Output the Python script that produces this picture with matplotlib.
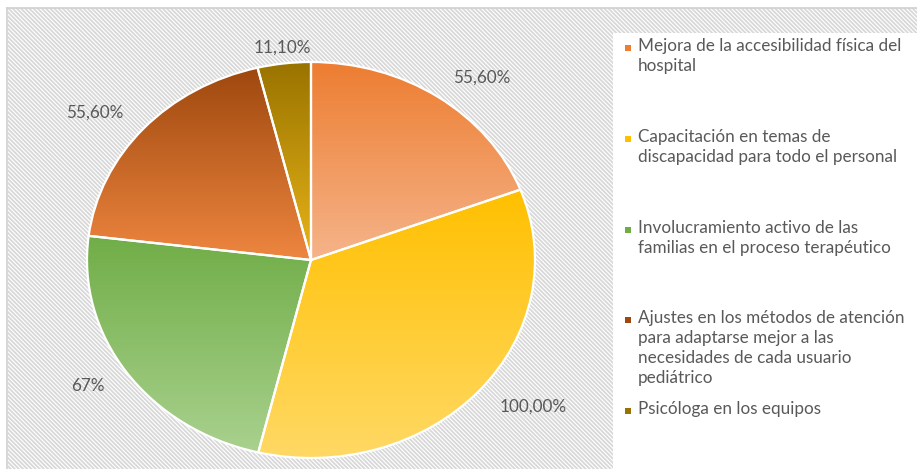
import numpy as np
import matplotlib.pyplot as plt
from matplotlib.patches import Rectangle
from matplotlib.colors import LinearSegmentedColormap

plt.rcParams['font.family'] = ['Lato', 'DejaVu Sans']
plt.rcParams['hatch.linewidth'] = 1.3

categories = [
    'Mejora de la accesibilidad física del\nhospital',
    'Capacitación en temas de\ndiscapacidad para todo el personal',
    'Involucramiento activo de las\nfamilias en el proceso terapéutico',
    'Ajustes en los métodos de atención\npara adaptarse mejor a las\nnecesidades de cada usuario\npediátrico',
    'Psicóloga en los equipos',
]
values = [55.6, 100.0, 67.0, 55.6, 11.1]
value_labels = ['55,60%', '100,00%', '67%', '55,60%', '11,10%']
top_colors = ['#ED7D31', '#FFC000', '#70AD47', '#9E480E', '#997300']
bottom_colors = ['#F5B48A', '#FFD966', '#A9D18E', '#EE8640', '#E8B418']

W, H = 917, 469
fig = plt.figure(figsize=(W / 100, H / 100), dpi=100)
fig.patch.set_facecolor('white')

# hatched chart background with thin border
bg = Rectangle((8 / W, 0), 1, 1 - 8 / H, transform=fig.transFigure,
               facecolor='white', edgecolor='#D8D8D8', hatch='\\' * 8, lw=0, zorder=0)
fig.patches.append(bg)
fig.add_artist(plt.Line2D([7 / W, 7 / W], [0, 1 - 8 / H], color='#D0D0D0', lw=1.2))
fig.add_artist(plt.Line2D([7 / W, 1], [1 - 8 / H, 1 - 8 / H], color='#D0D0D0', lw=1.2))

# white legend box
fig.patches.append(Rectangle((613 / W, 0), 1, 1 - 33 / H, transform=fig.transFigure,
                             facecolor='white', edgecolor='none', zorder=1))

# pie (stretched horizontally like the source)
ax = fig.add_axes([87 / W, 11 / H, 448 / W, 396 / H])
ax.set_zorder(5)
ax.patch.set_visible(False)
wedges, _ = ax.pie(values, startangle=90, counterclock=False,
                   wedgeprops=dict(edgecolor='white', linewidth=1.6))
ax.set_aspect('auto')
ax.axis('off')

for w, c0, c1 in zip(wedges, top_colors, bottom_colors):
    w.set_facecolor('none')
    verts = w.get_path().vertices
    ymin, ymax = verts[:, 1].min(), verts[:, 1].max()
    cmap = LinearSegmentedColormap.from_list('g', [c1, c0])
    grad = np.linspace(0, 1, 256).reshape(-1, 1)
    im = ax.imshow(grad, cmap=cmap, origin='lower', aspect='auto',
                   extent=(-1, 1, ymin, ymax), zorder=1)
    im.set_clip_path(w)
    w.set_zorder(2)

ax.set_aspect('auto')
ax.set_xlim(-1, 1)
ax.set_ylim(-1, 1)

# data labels
for w, lab in zip(wedges, value_labels):
    ang = np.deg2rad((w.theta1 + w.theta2) / 2)
    if abs(np.cos(ang)) < 0.3:
        ha, r = 'center', 1.08
    else:
        ha, r = ('left' if np.cos(ang) > 0 else 'right'), 1.12
    ax.text(r * np.cos(ang), r * np.sin(ang), lab, ha=ha, va='center',
            fontsize=12.3, color='#595959', clip_on=False)

# legend
y0 = 48
for i, (cat, col) in enumerate(zip(categories, top_colors)):
    y = y0 + i * 90.8
    fig.patches.append(Rectangle((625 / W, 1 - (y + 3) / H), 6 / W, 6 / H,
                                 transform=fig.transFigure, facecolor=col,
                                 edgecolor='none', zorder=3))
    fig.text(638 / W, 1 - (y - 10) / H, cat, ha='left', va='top', fontsize=12.3,
             color='#595959', linespacing=1.3)

fig.savefig('out.png', dpi=100)
